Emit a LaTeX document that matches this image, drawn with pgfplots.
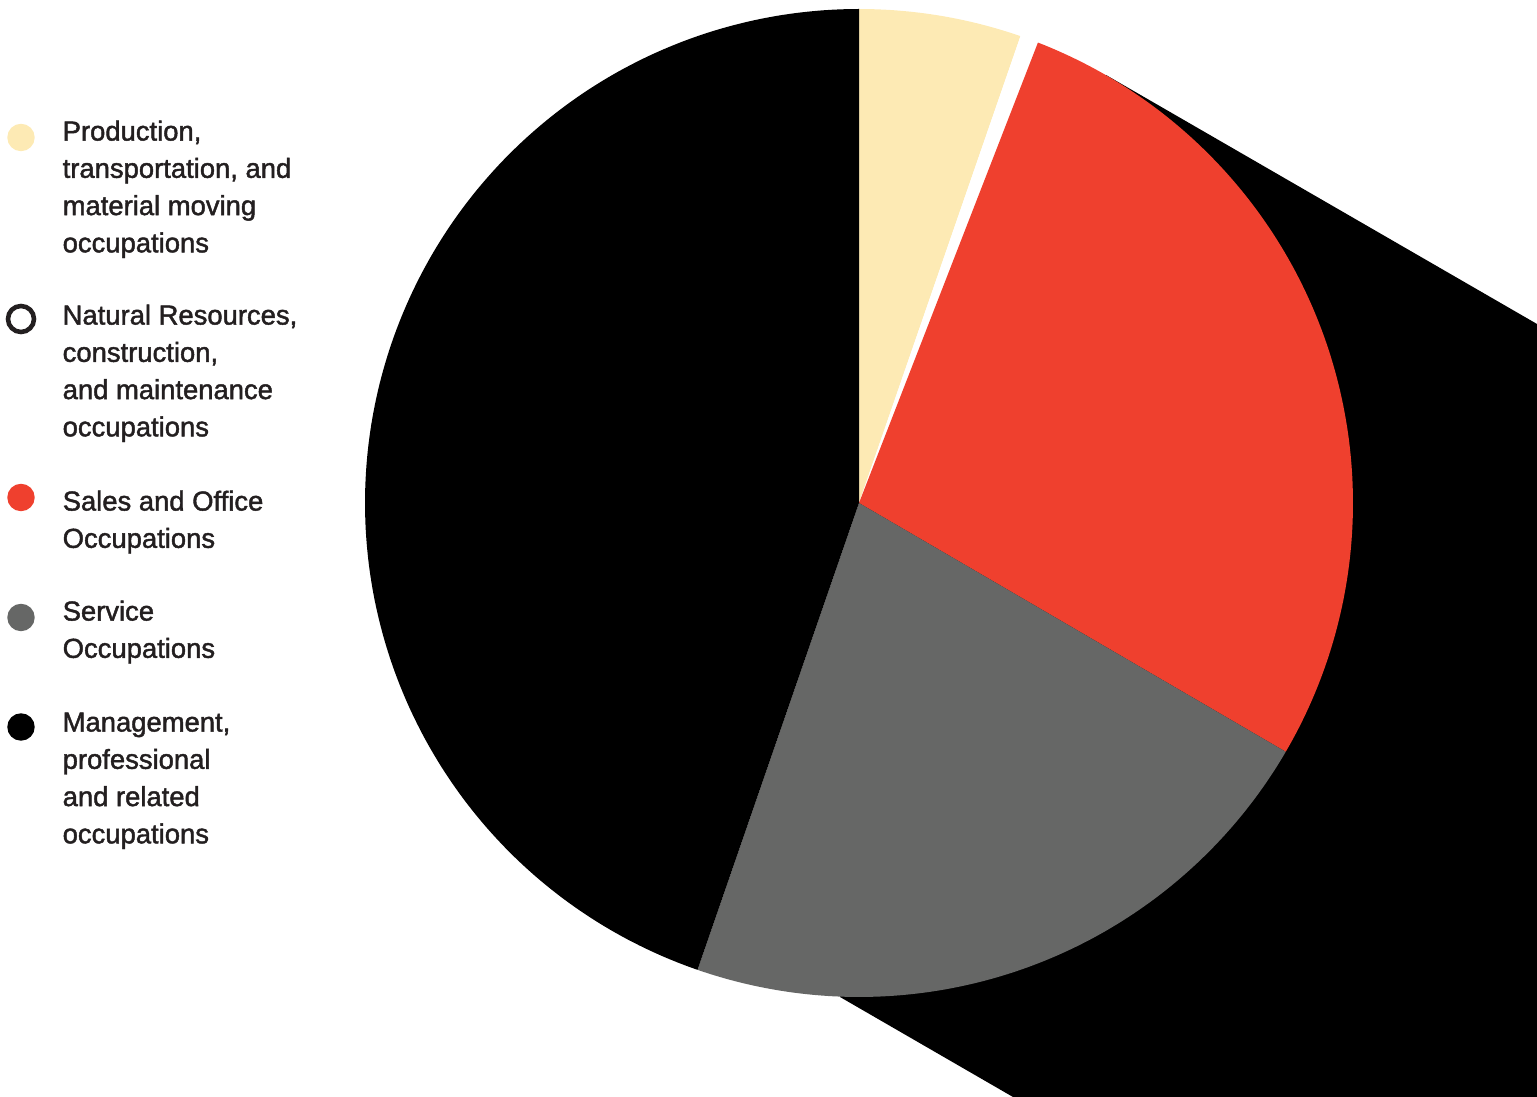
\documentclass[border=0pt]{standalone}
\usepackage{pgfplots}
\pgfplotsset{compat=1.18}
\usepackage{fontspec}
\setmainfont{Liberation Sans}
\newfontfamily\lgfont{Liberation Sans}[FakeBold=1.6]
\definecolor{cprod}{HTML}{FDEAB4}
\definecolor{csales}{HTML}{EF402E}
\definecolor{cserv}{HTML}{666766}
\definecolor{cmgmt}{HTML}{000000}
\definecolor{ctext}{HTML}{231F20}
% shares in percent, clockwise from 12 o'clock
\def\pProd{5.3}
\def\pNat{0.6}
\def\pSales{27.5}
\def\pServ{21.9}
\def\pMgmt{44.7}
\pgfmathsetmacro{\aA}{90}
\pgfmathsetmacro{\aB}{\aA-3.6*\pProd}
\pgfmathsetmacro{\aC}{\aB-3.6*\pNat}
\pgfmathsetmacro{\aD}{\aC-3.6*\pSales}
\pgfmathsetmacro{\aE}{\aD-3.6*\pServ}
\pgfmathsetmacro{\aF}{\aE-3.6*\pMgmt}
\def\cx{859}
\def\cy{594}
\def\R{494}
\begin{document}
\begin{tikzpicture}
\begin{axis}[
  width=15.37cm, height=10.97cm, scale only axis,
  xmin=0, xmax=1537, ymin=0, ymax=1097,
  hide axis,
]
% long shadow
\addplot[fill=black, draw=none] coordinates {(1106,1022) (1537,773) (1537,0) (1013,0) (840,100) (859,594)} -- cycle;
% slices
\addplot[fill=cprod, draw=none, domain=\aB:\aA, samples=80, variable=\t] ({\cx+\R*cos(\t)},{\cy+\R*sin(\t)}) -- (\cx,\cy) -- cycle;
\addplot[fill=white, draw=none, domain=\aC:\aB, samples=10, variable=\t] ({\cx+\R*cos(\t)},{\cy+\R*sin(\t)}) -- (\cx,\cy) -- cycle;
\addplot[fill=csales, draw=none, domain=\aD:\aC, samples=120, variable=\t] ({\cx+\R*cos(\t)},{\cy+\R*sin(\t)}) -- (\cx,\cy) -- cycle;
\addplot[fill=cserv, draw=none, domain=\aE:\aD, samples=120, variable=\t] ({\cx+\R*cos(\t)},{\cy+\R*sin(\t)}) -- (\cx,\cy) -- cycle;
\addplot[fill=cmgmt, draw=none, domain=\aF:\aE, samples=200, variable=\t] ({\cx+\R*cos(\t)},{\cy+\R*sin(\t)}) -- (\cx,\cy) -- cycle;
% legend markers
\addplot[only marks, mark=*, color=cprod, mark size=3.7pt] coordinates {(21,959.5)};
\addplot[only marks, mark=o, color=ctext, line width=1.3pt, mark size=3.7pt] coordinates {(21,778)};
\addplot[only marks, mark=*, color=csales, mark size=3.7pt] coordinates {(21,599.5)};
\addplot[only marks, mark=*, color=cserv, mark size=3.7pt] coordinates {(21,479.5)};
\addplot[only marks, mark=*, color=cmgmt, mark size=3.7pt] coordinates {(21,370)};
% legend text
\tikzset{lg/.style={anchor=north west, inner sep=0pt, align=left, text=ctext, font=\lgfont\fontsize{7.8}{10.6}\selectfont}}
\node[lg] at (62,977) {Production,\\transportation, and\\material moving\\occupations};
\node[lg] at (62,793) {Natural Resources,\\construction,\\and maintenance\\occupations};
\node[lg] at (62,607) {Sales and Office\\Occupations};
\node[lg] at (62,497) {Service\\Occupations};
\node[lg] at (62,385) {Management,\\professional\\and related\\occupations};
\end{axis}
\pgfresetboundingbox
\useasboundingbox (current axis.south west) rectangle (current axis.north east);
\end{tikzpicture}
\end{document}
